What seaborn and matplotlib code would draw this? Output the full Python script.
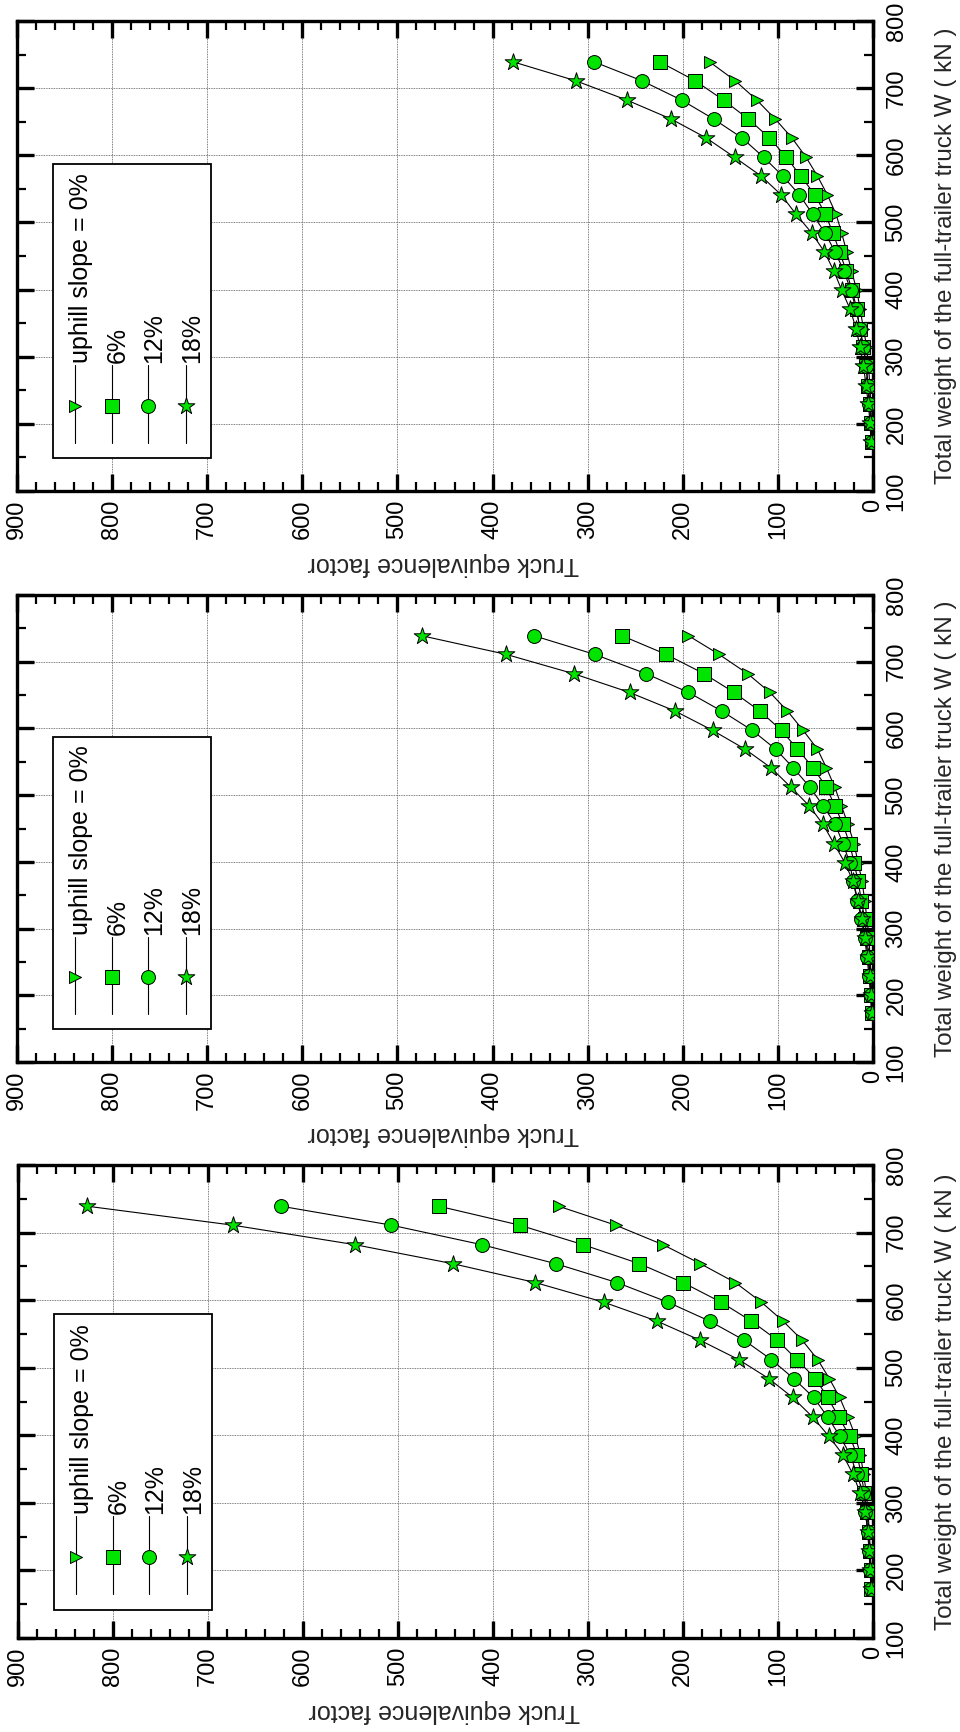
import numpy as np
import pandas as pd
import matplotlib
matplotlib.use("Agg")
import matplotlib.pyplot as plt
from matplotlib.ticker import MultipleLocator
from matplotlib.patches import Rectangle
import seaborn as sns

# Total weight of the full-trailer truck (kN)
weights = [173, 201, 229, 257, 286, 314, 342, 371, 399, 427, 456,
           484, 512, 541, 569, 597, 626, 654, 682, 711, 739]

slopes = ["0%", "6%", "12%", "18%"]
legend_labels = ["uphill slope = 0%", "6%", "12%", "18%"]

# Truck equivalence factor, panel 1 (top)
p1_s0 = [0.7, 1.4, 2.4, 3.1, 4.9, 6.6, 10, 13.6, 17, 22.4, 27.6,
         32.9, 38.8, 47.9, 58.4, 70.3, 85.3, 102.8, 122, 144.8, 171.7]
p1_s6 = [1.4, 2.4, 3, 5, 7, 10, 14, 17, 22, 28, 35,
         42, 50, 61, 76, 91, 109, 131, 157, 187, 224]
p1_s12 = [1.4, 2.4, 3.8, 5.6, 7.3, 10, 13.6, 17.8, 23.4, 30.4, 39.9,
          50.3, 63.3, 77.3, 94.8, 115, 137.8, 167.5, 201, 243, 293]
p1_s18 = [2.1, 3.1, 4.9, 7.3, 10, 13.6, 17.8, 24.1, 32.9, 40.9, 51,
          64.3, 80.8, 96.5, 117.5, 145.5, 175.5, 212.2, 258.4, 312.6, 378]

# Truck equivalence factor, panel 2 (middle)
p2_s0 = [0.7, 1.4, 2.1, 3.1, 4.2, 6.3, 8.7, 11.5, 15.7, 19.9, 26.2,
         33.2, 40.2, 49, 58.4, 73.4, 89.9, 108.4, 131.8, 161.9, 194]
p2_s6 = [1.1, 2.1, 3.1, 4.5, 6.3, 8.7, 12.2, 15.7, 19.9, 24.5, 31.5,
         40.2, 49, 63, 79.4, 96.2, 118.9, 146.2, 177.6, 217.5, 264]
p2_s12 = [1.4, 2.5, 4.2, 6.3, 8.7, 12.2, 16.4, 21, 24.5, 31.5, 39.5,
          52.4, 66.4, 83.9, 102.4, 126.9, 159, 194, 238.5, 292.7, 356.6]
p2_s18 = [1.4, 2.4, 3.5, 5.2, 8, 11.5, 15.7, 21, 29.7, 40.9, 52.4,
          67.1, 86.4, 107.3, 134.6, 168.5, 208, 256, 314.7, 385.7, 474.6]

# Truck equivalence factor, panel 3 (bottom)
p3_s0 = [1.4, 2.1, 2.8, 3.9, 5.2, 7, 9.8, 13.3, 18.6, 26.3, 35.1,
         46, 58.2, 74.7, 94.7, 117.5, 144.9, 181.8, 221, 271, 331]
p3_s6 = [1.8, 2.5, 3.5, 4.6, 6.3, 9.1, 12.3, 16.8, 24.6, 36.1, 47.7,
         60.7, 80, 101, 128, 160, 200, 246, 305, 372, 457]
p3_s12 = [2.1, 3.2, 4.2, 5.6, 8, 10.5, 16.8, 23.9, 35, 47.7, 62.5,
          83.5, 107, 136, 172, 216, 269.5, 334, 411.6, 507, 623]
p3_s18 = [2.1, 2.8, 3.9, 5.3, 8, 13.3, 21, 31.6, 46.7, 63.5, 84.6,
          109.8, 141.4, 182.5, 227.4, 283.5, 355.4, 442.5, 545, 674, 827]

panels = [
    [p1_s0, p1_s6, p1_s12, p1_s18],
    [p2_s0, p2_s6, p2_s12, p2_s18],
    [p3_s0, p3_s6, p3_s12, p3_s18],
]

x_label = "Truck equivalence factor"
y_label = "Total weight of the full-trailer truck W ( kN )"

sns.set_theme(style="white")
plt.rcParams["font.family"] = ["Liberation Sans", "DejaVu Sans"]

GREEN = "#00e400"
marker_style = {
    "0%": dict(marker=">", s=75),
    "6%": dict(marker="s", s=90),
    "12%": dict(marker="o", s=100),
    "18%": dict(marker="*", s=160),
}

fig = plt.figure(figsize=(9.6, 17.32), dpi=100)
W, H = 960.0, 1732.0
# (left, top, right, bottom) in pixels for each panel
boxes = [(17, 21, 873, 491), (17, 595, 873, 1062), (18, 1165, 873, 1638)]
legend_shift = [0.0, 0.0, -0.010]

for values, (l, t, r, b), shift in zip(panels, boxes, legend_shift):
    ax = fig.add_axes([l / W, 1 - b / H, (r - l) / W, (b - t) / H])
    frames = []
    for slope, vals in zip(slopes, values):
        frames.append(pd.DataFrame({"weight": weights, "factor": vals, "slope": slope}))
    df = pd.concat(frames, ignore_index=True)

    sns.lineplot(data=df, x="factor", y="weight", units="slope", estimator=None,
                 sort=False, color="black", linewidth=0.8, legend=False, ax=ax,
                 zorder=2)
    for slope in slopes:
        sub = df[df["slope"] == slope]
        sns.scatterplot(data=sub, x="factor", y="weight", color=GREEN,
                        edgecolor="black", linewidth=0.7, legend=False, ax=ax,
                        zorder=3, **marker_style[slope])

    ax.set_xlim(900, 0)
    ax.set_ylim(100, 800)
    ax.xaxis.set_major_locator(MultipleLocator(100))
    ax.xaxis.set_minor_locator(MultipleLocator(20))
    ax.yaxis.set_major_locator(MultipleLocator(100))
    ax.yaxis.set_minor_locator(MultipleLocator(50))
    ax.grid(True, which="major", linestyle=(0, (1, 1)), color="#555555", linewidth=0.6)
    ax.set_axisbelow(True)

    for sp in ax.spines.values():
        sp.set_visible(True)
        sp.set_color("black")
        sp.set_linewidth(2.4)

    ax.tick_params(which="both", direction="in", top=True, bottom=True,
                   left=True, right=True, colors="black")
    ax.tick_params(which="major", length=12, width=2.4)
    ax.tick_params(which="minor", length=6.5, width=1.6)
    ax.tick_params(axis="x", which="major", labelsize=17, labelrotation=90, pad=6)
    ax.tick_params(axis="y", which="major", labelsize=17, labelrotation=90, pad=9,
                   labelleft=False, labelright=True)
    for lab in ax.get_yticklabels():
        lab.set_verticalalignment("center")

    ax.set_xlabel(x_label, fontsize=18, rotation=180)
    ax.xaxis.set_label_coords(0.498, -0.155)
    ax.xaxis.label.set_verticalalignment("center")
    ax.yaxis.set_label_position("right")
    ax.set_ylabel(y_label, fontsize=17.5, rotation=90)
    ax.yaxis.set_label_coords(1.085, 0.5)
    ax.yaxis.label.set_horizontalalignment("center")
    ax.yaxis.label.set_verticalalignment("center")

    # legend drawn in axes coordinates with vertical entries
    ax.add_patch(Rectangle((0.042, 0.070 + shift), 0.185, 0.626, transform=ax.transAxes,
                           facecolor="white", edgecolor="black", linewidth=1.3,
                           zorder=5))
    for xe, slope, text in zip([0.068, 0.111, 0.153, 0.198], slopes, legend_labels):
        ax.plot([xe, xe], [0.102 + shift, 0.268 + shift], transform=ax.transAxes,
                color="black", linewidth=0.8, zorder=6)
        ms = marker_style[slope]
        ax.scatter([xe], [0.181 + shift], transform=ax.transAxes, marker=ms["marker"],
                   s=ms["s"], color=GREEN, edgecolor="black", linewidth=0.7, zorder=7)
        ax.text(xe + 0.007, 0.272 + shift, text, transform=ax.transAxes, rotation=90,
                rotation_mode="anchor", ha="left", va="center", fontsize=18,
                color="black", zorder=7)

fig.savefig("out.png", dpi=100)
